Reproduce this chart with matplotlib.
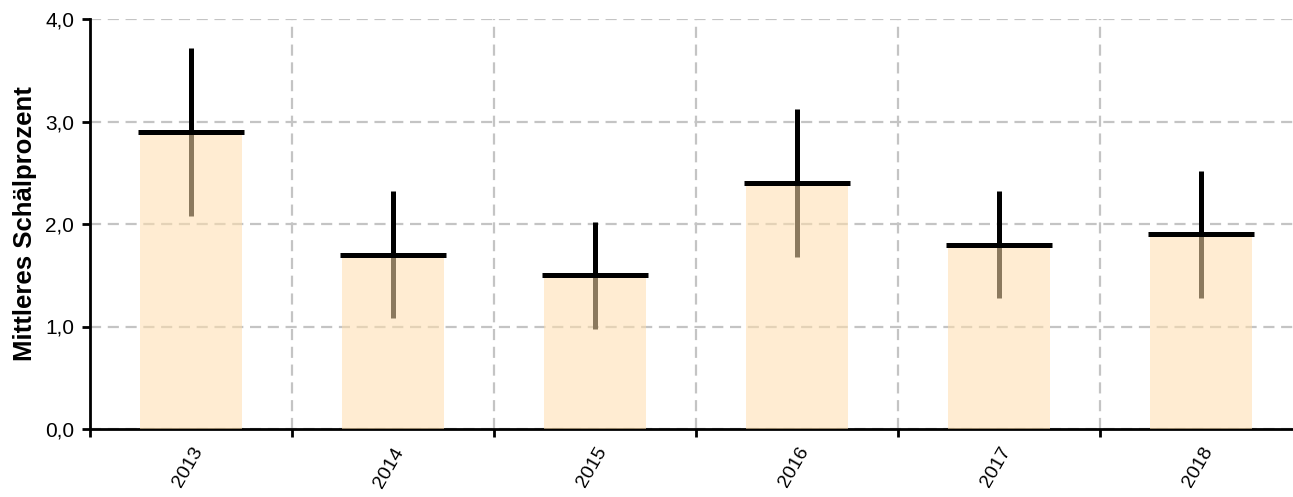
import matplotlib
matplotlib.use("Agg")
import matplotlib.pyplot as plt
import numpy as np
from matplotlib.ticker import FixedLocator, FuncFormatter

plt.rcParams['font.family'] = ['Liberation Sans', 'DejaVu Sans']

years = ["2013", "2014", "2015", "2016", "2017", "2018"]
mean_peel = [2.9, 1.7, 1.5, 2.4, 1.8, 1.9]
err_peel = [0.82, 0.62, 0.52, 0.72, 0.52, 0.62]

fig = plt.figure(figsize=(12.93, 4.97), dpi=100)
ax = fig.add_axes([90 / 1293, (497 - 429) / 497, 1212 / 1293, 410 / 497])

x = np.arange(len(years))

ax.errorbar(x, mean_peel, yerr=err_peel, fmt='none', ecolor='black',
            elinewidth=3.6, capsize=0, zorder=2)
ax.bar(x, mean_peel, width=0.505, color='navajowhite', alpha=0.55,
       linewidth=0, zorder=3)
ax.hlines(mean_peel, x - 0.262, x + 0.262, colors='black', linewidth=3.6,
          zorder=4)

ax.set_xlim(-0.5, len(years) - 0.5)
ax.set_ylim(0, 4.0)

# major ticks at category boundaries, labels centered on categories
ax.xaxis.set_major_locator(FixedLocator(np.arange(-0.5, len(years), 1.0)))
ax.xaxis.set_minor_locator(FixedLocator(x))
ax.set_xticklabels([])
ax.set_xticklabels(years, minor=True, rotation=60, ha='right', va='top',
                   rotation_mode='anchor', fontsize=14)
ax.tick_params(axis='x', which='minor', length=0, pad=11)
ax.tick_params(axis='x', which='major', length=6, width=2, direction='out')

ax.set_yticks([0, 1, 2, 3, 4])
ax.yaxis.set_major_formatter(FuncFormatter(lambda v, p: f"{v:.1f}".replace('.', ',')))
ax.tick_params(axis='y', length=6, width=2, direction='out', labelsize=15, pad=5.5)

ax.grid(True, which='major', color='#c4c4c4', linestyle=(0, (5, 3)),
        linewidth=1.6, zorder=0)
ax.set_axisbelow(True)

for side in ('top', 'right'):
    ax.spines[side].set_visible(False)
for side in ('left', 'bottom'):
    ax.spines[side].set_linewidth(2)
    ax.spines[side].set_zorder(2.5)

ax.set_ylabel("Mittleres Schälprozent", fontsize=18.5, fontweight='bold', labelpad=6)

fig.savefig("out.png", dpi=100)
